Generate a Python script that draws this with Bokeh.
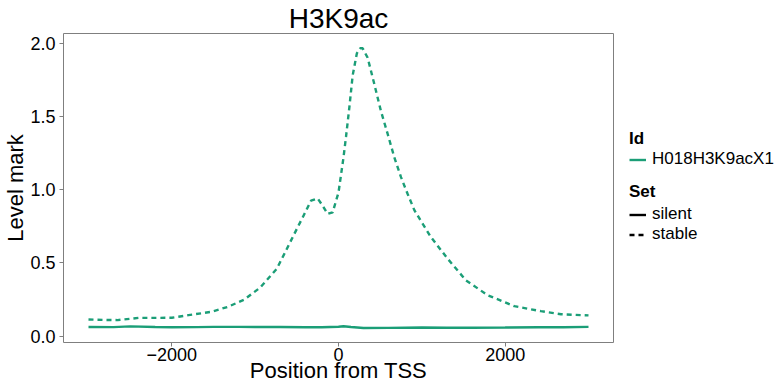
import numpy as np
from bokeh.plotting import figure
from bokeh.layouts import row
from bokeh.models import Range1d, FixedTicker, Legend, LegendItem
from bokeh.embed import file_html
from bokeh.resources import INLINE

# ---------------- data ----------------
title_text = "H3K9ac"
x_label = "Position from TSS"
y_label = "Level mark"
id_name = "H018H3K9acX1"
set_names = ["silent", "stable"]

x_ticks = [-2000, 0, 2000]
x_tick_labels = ["\u22122000", "0", "2000"]
y_ticks = [0.0, 0.5, 1.0, 1.5, 2.0]
y_tick_labels = ["0.0", "0.5", "1.0", "1.5", "2.0"]

stable_pos = [-3000, -2800, -2650, -2400, -2200, -2000, -1800, -1530, -1330, -1130,
              -940, -740, -630, -530, -430, -330, -250, -190, -130, -70,
              0, 30, 60, 90, 130, 170, 220, 260, 290, 350,
              430, 510, 590, 670, 750, 830, 910, 990, 1050, 1110,
              1310, 1530, 1790, 2110, 2430, 2670, 3000]
stable_val = [0.113, 0.110, 0.109, 0.124, 0.124, 0.125, 0.143, 0.165, 0.199, 0.249,
              0.331, 0.460, 0.584, 0.698, 0.810, 0.924, 0.940, 0.890, 0.834, 0.845,
              0.980, 1.100, 1.220, 1.360, 1.560, 1.780, 1.930, 1.965, 1.965, 1.900,
              1.720, 1.535, 1.380, 1.220, 1.085, 0.970, 0.860, 0.785, 0.730, 0.675,
              0.528, 0.380, 0.279, 0.204, 0.170, 0.149, 0.141]

silent_pos = [-3000, -2700, -2500, -2200, -2000, -1700, -1500, -1200, -1000, -700,
              -400, -200, 0, 60, 150, 300, 600, 1000, 1300, 1600,
              2000, 2400, 2700, 3000]
silent_val = [0.062, 0.061, 0.066, 0.062, 0.060, 0.061, 0.063, 0.063, 0.062, 0.062,
              0.060, 0.060, 0.064, 0.067, 0.062, 0.055, 0.056, 0.058, 0.057, 0.057,
              0.058, 0.060, 0.060, 0.063]

# ---------------- styling ----------------
GREEN = "#1B9E77"
GREY = "#7f7f7f"
FONT = "Liberation Sans"

p = figure(width=614, height=386, output_backend="svg", toolbar_location=None,
           x_range=Range1d(-3300, 3300), y_range=Range1d(-0.044, 2.066),
           min_border_left=62, min_border_right=1, min_border_top=32,
           min_border_bottom=44, title=title_text)
p.background_fill_color = "white"
p.border_fill_color = "white"
p.outline_line_color = GREY
p.outline_line_width = 1
p.grid.visible = False

p.title.align = "center"
p.title.text_font = FONT
p.title.text_font_size = "28px"
p.title.text_font_style = "normal"
p.title.text_color = "black"
p.title.standoff = 0

for ax in (p.xaxis[0], p.yaxis[0]):
    ax.axis_line_color = None
    ax.major_tick_line_color = GREY
    ax.major_tick_out = 4
    ax.major_tick_in = 0
    ax.minor_tick_line_color = None
    ax.major_label_text_font = FONT
    ax.major_label_text_font_size = "18px"
    ax.major_label_text_color = "black"
    ax.axis_label_text_font = FONT
    ax.axis_label_text_font_size = "22px"
    ax.axis_label_text_font_style = "normal"
    ax.axis_label_text_color = "black"

p.xaxis[0].ticker = FixedTicker(ticks=x_ticks)
p.xaxis[0].major_label_overrides = dict(zip(x_ticks, x_tick_labels))
p.xaxis[0].axis_label = x_label
p.xaxis[0].major_label_standoff = 1
p.xaxis[0].axis_label_standoff = -6

p.yaxis[0].ticker = FixedTicker(ticks=y_ticks)
p.yaxis[0].major_label_overrides = dict(zip(y_ticks, y_tick_labels))
p.yaxis[0].axis_label = y_label
p.yaxis[0].major_label_standoff = 4
p.yaxis[0].axis_label_standoff = -1

r_silent = p.line(silent_pos, silent_val, line_color=GREEN, line_width=2.4)
r_stable = p.line(stable_pos, stable_val, line_color=GREEN, line_width=2.4,
                  line_dash="5 4")

# ---------------- legend panel ----------------
q = figure(width=167, height=386, output_backend="svg", toolbar_location=None,
           x_range=Range1d(0, 1), y_range=Range1d(0, 1),
           min_border=0, min_border_left=0, min_border_right=0,
           min_border_top=0, min_border_bottom=0)
q.axis.visible = False
q.grid.visible = False
q.outline_line_color = None
q.background_fill_color = "white"
q.border_fill_color = "white"

k_id = q.line([0, 1], [-10, -10], line_color=GREEN, line_width=2.4)
k_silent = q.line([0, 1], [-10, -10], line_color="black", line_width=2.4)
k_stable = q.line([0, 1], [-10, -10], line_color="black", line_width=2.4,
                  line_dash="5 4")


def style_legend(lg, standoff):
    lg.title_text_font = FONT
    lg.title_text_font_style = "bold"
    lg.title_text_font_size = "17px"
    lg.title_text_color = "black"
    lg.title_standoff = standoff
    lg.label_text_font = FONT
    lg.label_text_font_size = "17px"
    lg.label_text_color = "black"
    lg.glyph_width = 17
    lg.glyph_height = 19
    lg.label_height = 19
    lg.label_standoff = 6
    lg.spacing = -3
    lg.padding = 0
    lg.margin = 0
    lg.border_line_color = None
    lg.background_fill_alpha = 0


leg_id = Legend(items=[LegendItem(label=id_name, renderers=[k_id])],
                title="Id", location=(15, 173))
leg_set = Legend(items=[LegendItem(label=set_names[0], renderers=[k_silent]),
                        LegendItem(label=set_names[1], renderers=[k_stable])],
                 title="Set", location=(15, 98))
style_legend(leg_id, 0)
style_legend(leg_set, 2)
q.add_layout(leg_id, "center")
q.add_layout(leg_set, "center")

layout = row(p, q, spacing=0)
open("out.html", "w").write(file_html(layout, INLINE))
